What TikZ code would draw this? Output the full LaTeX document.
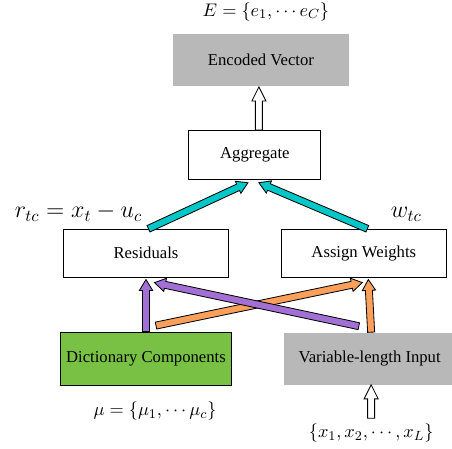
\documentclass[tikz,border=0pt]{standalone}
\usepackage{fontspec}
\setmainfont{Liberation Serif}
\usetikzlibrary{positioning,calc}

\definecolor{dictgreen}{RGB}{120,193,68}
\definecolor{boxgray}{RGB}{184,184,184}
\definecolor{aggcyan}{RGB}{0,200,200}
\definecolor{respurple}{RGB}{162,112,212}
\definecolor{wtorange}{RGB}{250,160,90}

% block arrow: fill, half shaft, half head, head length, tail, tip
\newcommand{\arrowshape}[6]{%
  \coordinate (ah-base) at ($(#6)!#4!(#5)$);
  \draw[line width=0.5pt, fill=#1]
    ($(#5)!#2!90:(#6)$) -- ($(ah-base)!#2!-90:(#5)$) -- ($(ah-base)!#3!-90:(#5)$)
    -- (#6) -- ($(ah-base)!#3!90:(#5)$) -- ($(ah-base)!#2!90:(#5)$)
    -- ($(#5)!#2!-90:(#6)$) -- cycle;}
\newcommand{\fatarrow}[3]{\arrowshape{#1}{2.1pt}{4pt}{6.5pt}{#2}{#3}}
\newcommand{\hollowarrow}[2]{\arrowshape{white}{2.1pt}{4.2pt}{8.4pt}{#1}{#2}}

\begin{document}
\begin{tikzpicture}[
    box/.style={draw, line width=0.5pt, minimum height=28.8pt, minimum width=99pt, align=center},
    grey/.style={fill=boxgray, minimum height=31.2pt, minimum width=102.6pt, align=center},
    setlabel/.style={font=\fontsize{11}{13}\selectfont}
]
\useasboundingbox (-87.6pt,-53.7pt) rectangle (183.6pt,215.1pt);

% inputs
\node[box, fill=dictgreen, minimum height=31.8pt, minimum width=99.6pt] (dict) {Dictionary Components};
\node[grey, right=31.2pt of dict] (var) {Variable-length Input};
\node[setlabel, below=6.5pt of dict, xshift=5.4pt] (mulabel) {$\mu=\{\mu_1,\cdots\mu_c\}$};
\node[setlabel, below=20pt of var, xshift=0.9pt] (xlabel) {$\{x_1,x_2,\cdots,x_L\}$};

% middle row
\node[box, above=32.4pt of dict] (res) {Residuals};
\node[box, right=31.2pt of res] (asw) {Assign Weights};
\node[font=\Large, above=1pt of res, xshift=-40.5pt] (rlabel) {$r_{tc}=x_t-u_c$};
\node[font=\Large, above=1pt of asw, xshift=25.5pt] (wlabel) {$w_{tc}$};

% output
\coordinate (top-mid) at ($(res.north)!0.5!(asw.north)$);
\node[box, minimum width=79.2pt, minimum height=29.4pt, above=29.4pt of top-mid] (agg) {Aggregate};
\node[grey, minimum width=105.6pt, above=26.4pt of agg, xshift=3.6pt] (enc) {Encoded Vector};
\node[setlabel, above=4pt of enc, xshift=3pt] (elabel) {$E=\{e_1,\cdots e_C\}$};

% arrow ends
\coordinate (x-out) at (xlabel.north);
\coordinate (var-in) at (xlabel.north |- var.south);
\coordinate (d-up) at (dict.north);
\coordinate (d-res) at ($(res.south)+(0,-1.2pt)$);
\coordinate (d-cross) at ($(dict.north)+(6pt,3.6pt)$);
\coordinate (asw-cross) at ($(asw.south)+(-0.9pt,-3pt)$);
\coordinate (v-up) at ($(var.north)+(0.9pt,0)$);
\coordinate (v-asw) at ($(asw.south)+(2.7pt,-1.2pt)$);
\coordinate (v-cross) at ($(var.north west)+(45pt,3.6pt)$);
\coordinate (res-cross) at ($(res.south)+(5.1pt,-3pt)$);
\coordinate (res-out) at ($(res.north)+(1.5pt,0)$);
\coordinate (agg-l) at ($(agg.south)+(-4.2pt,-1.8pt)$);
\coordinate (asw-out) at ($(asw.north)+(2.1pt,0)$);
\coordinate (agg-r) at ($(agg.south)+(2.4pt,-1.8pt)$);
\coordinate (agg-out) at ($(agg.north)+(2.4pt,0)$);
\coordinate (enc-in) at ($(agg-out |- enc.south)+(0,-0.6pt)$);

\hollowarrow{x-out}{var-in}
\fatarrow{wtorange}{v-up}{v-asw}
\fatarrow{wtorange}{d-cross}{asw-cross}
\fatarrow{respurple}{d-up}{d-res}
\fatarrow{respurple}{v-cross}{res-cross}
\fatarrow{aggcyan}{res-out}{agg-l}
\fatarrow{aggcyan}{asw-out}{agg-r}
\hollowarrow{agg-out}{enc-in}
\end{tikzpicture}
\end{document}
